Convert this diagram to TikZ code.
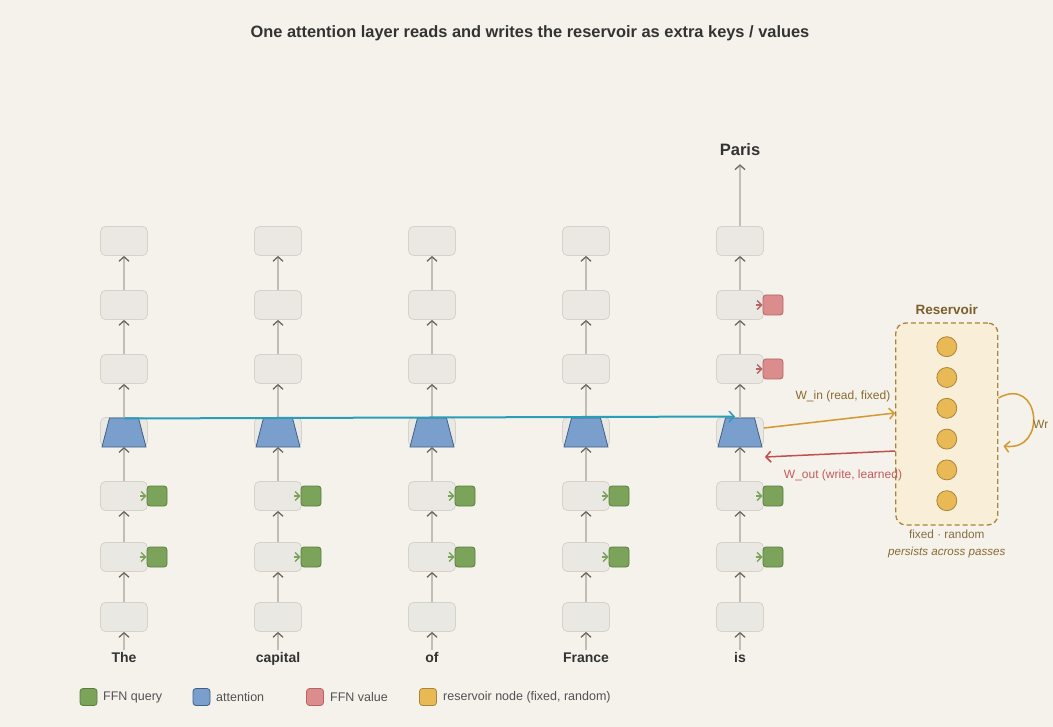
\documentclass[tikz,border=0pt]{standalone}
\usepackage{fontspec}
\setmainfont{Liberation Sans}
\usetikzlibrary{arrows.meta,calc}
\definecolor{bg}{HTML}{F5F2EC}
\definecolor{cellfill}{HTML}{EAE8E3}
\definecolor{cellborder}{HTML}{D6D2CA}
\definecolor{linegray}{HTML}{C2BCB4}
\definecolor{tipgray}{HTML}{6E6862}
\definecolor{gq}{HTML}{7BA35A}
\definecolor{gqd}{HTML}{5A7D3E}
\definecolor{bl}{HTML}{7B9FCC}
\definecolor{bld}{HTML}{3F6089}
\definecolor{rv}{HTML}{DB8C8C}
\definecolor{rvd}{HTML}{B86464}
\definecolor{yl}{HTML}{E8B955}
\definecolor{yld}{HTML}{A8853A}
\definecolor{resfill}{HTML}{F9EFD9}
\definecolor{cyanar}{HTML}{2A9DB8}
\definecolor{orar}{HTML}{D4982E}
\definecolor{redar}{HTML}{C0504D}
\definecolor{brownlab}{HTML}{8A6A30}
\definecolor{redlab}{HTML}{C45C5C}
\definecolor{txt}{HTML}{333333}
\tikzset{
  cell/.style={draw=cellborder, fill=cellfill, rounded corners=5pt, minimum width=47pt, minimum height=29pt, inner sep=0pt, line width=0.8pt},
  sqbox/.style={rounded corners=3pt, minimum size=20pt, inner sep=0pt, line width=0.8pt},
  ffnq/.style={sqbox, fill=gq, draw=gqd},
  ffnv/.style={sqbox, fill=rv, draw=rvd},
  attn/.style={fill=bl, draw=bld, line width=0.8pt, line join=miter},
  flow/.style={draw=linegray, line width=1.4pt, -{Straight Barb[length=4.5pt,width=10pt,color=tipgray,line width=1.3pt]}},
  sideq/.style={draw=gq, line width=1.3pt, -{Straight Barb[length=4.5pt,width=9pt,line width=1.4pt]}},
  sidev/.style={draw=rvd, line width=1.3pt, -{Straight Barb[length=4.5pt,width=9pt,line width=1.4pt]}},
  tok/.style={font=\fontsize{14}{16}\selectfont\bfseries, text=txt, inner sep=2pt, text height=10pt, text depth=3pt},
  rnode/.style={circle, minimum size=20pt, inner sep=0pt, fill=yl, draw=yld, line width=0.8pt},
  legsq/.style={rounded corners=3pt, minimum size=17pt, inner sep=0pt, line width=0.8pt},
  legtxt/.style={anchor=west, font=\fontsize{12.5}{14}\selectfont, text=txt!85, inner sep=0pt},
  bigtip/.style={-{Straight Barb[length=5pt,width=11pt,line width=1.5pt]}},
}
\begin{document}
\begin{tikzpicture}[x=1pt,y=-1pt]
\fill[bg] (0,0) rectangle (1053,727);
\useasboundingbox (0,0) rectangle (1053,727);

\node[font=\fontsize{16.4}{19}\selectfont\bfseries, text=txt] (title) at (530,33) {One attention layer reads and writes the reservoir as extra keys / values};

\foreach \x/\w [count=\i] in {124/The,278/capital,432/of,586/France,740/is} {
  \node[tok] (w\i) at (\x,659) {\w};
  \foreach \y [count=\j] in {617,557,496,432,369,305,241}
    \node[cell] (c\i-\j) at (\x,\y) {};
  \coordinate (at\i) at (\x,418);
  \coordinate (ab\i) at (\x,447);
  \draw[attn] (\x-14.5,418) -- (\x+14.5,418) -- (\x+22,447) -- (\x-22,447) -- cycle;
  \draw[flow] (w\i.north) -- (c\i-1.south);
  \draw[flow] (c\i-1.north) -- (c\i-2.south);
  \draw[flow] (c\i-2.north) -- (c\i-3.south);
  \draw[flow] (c\i-3.north) -- (ab\i);
  \draw[flow] (at\i) -- (c\i-5.south);
  \draw[flow] (c\i-5.north) -- (c\i-6.south);
  \draw[flow] (c\i-6.north) -- (c\i-7.south);
  \node[ffnq] (q\i-1) at (\x+33,557) {};
  \node[ffnq] (q\i-2) at (\x+33,496) {};
  \draw[sideq] ([xshift=-8pt]c\i-2.east) -- (q\i-1.west);
  \draw[sideq] ([xshift=-8pt]c\i-3.east) -- (q\i-2.west);
}

\node[ffnv] (v1) at (773,369) {};
\node[ffnv] (v2) at (773,305) {};
\draw[sidev] ([xshift=-8pt]c5-5.east) -- (v1.west);
\draw[sidev] ([xshift=-8pt]c5-6.east) -- (v2.west);

\node[font=\fontsize{16.5}{19}\selectfont\bfseries, text=txt, inner sep=0pt] (paris) at (740,150) {Paris};
\draw[flow] (c5-7.north) -- ($(paris.south)+(0,8)$);

% cyan attention arrow
\draw[draw=cyanar, line width=2pt, bigtip] ($(at1)+(0,0.5)$) -- ($(at5)+(-5,-1.5)$);

% reservoir
\node[draw=yld, fill=resfill, dashed, dash pattern=on 5pt off 3pt, line width=1.3pt, rounded corners=10pt, minimum width=102pt, minimum height=202pt, inner sep=0pt] (res) at (946.8,424) {};
\node[font=\fontsize{13.5}{16}\selectfont\bfseries, text=brownlab!90!black] (restitle) at (946.8,309.5) {Reservoir};
\foreach \y [count=\k] in {346.7,377.5,408.3,439.1,469.9,500.7}
  \node[rnode] (n\k) at (946.8,\y) {};
\node[font=\fontsize{11.8}{14}\selectfont, text=brownlab!80!gray] (fr) at (946.8,534) {fixed · random};
\node[font=\fontsize{11.6}{14}\selectfont\itshape, text=brownlab] (pers) at (946.8,552) {persists across passes};

% W_in / W_out
\draw[draw=orar, line width=1.5pt, bigtip] ($(c5-4.east)+(0,-4)$) -- ($(res.west)+(0,-11)$);
\node[font=\fontsize{12}{14}\selectfont, text=brownlab] (win) at (843,396) {W\_in (read, fixed)};
\draw[draw=redar, line width=1.5pt, bigtip] ($(res.west)+(0,27)$) -- ($(c5-4.east)+(1,25)$);
\node[font=\fontsize{12}{14}\selectfont, text=redlab] (wout) at (843,475) {W\_out (write, learned)};

% Wr loop
\draw[draw=orar, line width=1.5pt, bigtip] ($(res.east)+(0,-26)$) .. controls (1040,375) and (1048,452) .. ($(res.east)+(5,22)$);
\node[anchor=west, font=\fontsize{12}{14}\selectfont, text=brownlab, inner sep=0pt] (wr) at (1033,424) {Wr};

% legend
\node[legsq, fill=gq, draw=gqd] (l1) at (88.5,697) {};
\node[legtxt] (t1) at (103,697) {FFN query};
\node[legsq, fill=bl, draw=bld] (l2) at (201.5,697) {};
\node[legtxt] (t2) at (216,697) {attention};
\node[legsq, fill=rv, draw=rvd] (l3) at (315,697) {};
\node[legtxt] (t3) at (330,697) {FFN value};
\node[legsq, fill=yl, draw=yld] (l4) at (428,697) {};
\node[legtxt] (t4) at (443,697) {reservoir node (fixed, random)};
\end{tikzpicture}
\end{document}
